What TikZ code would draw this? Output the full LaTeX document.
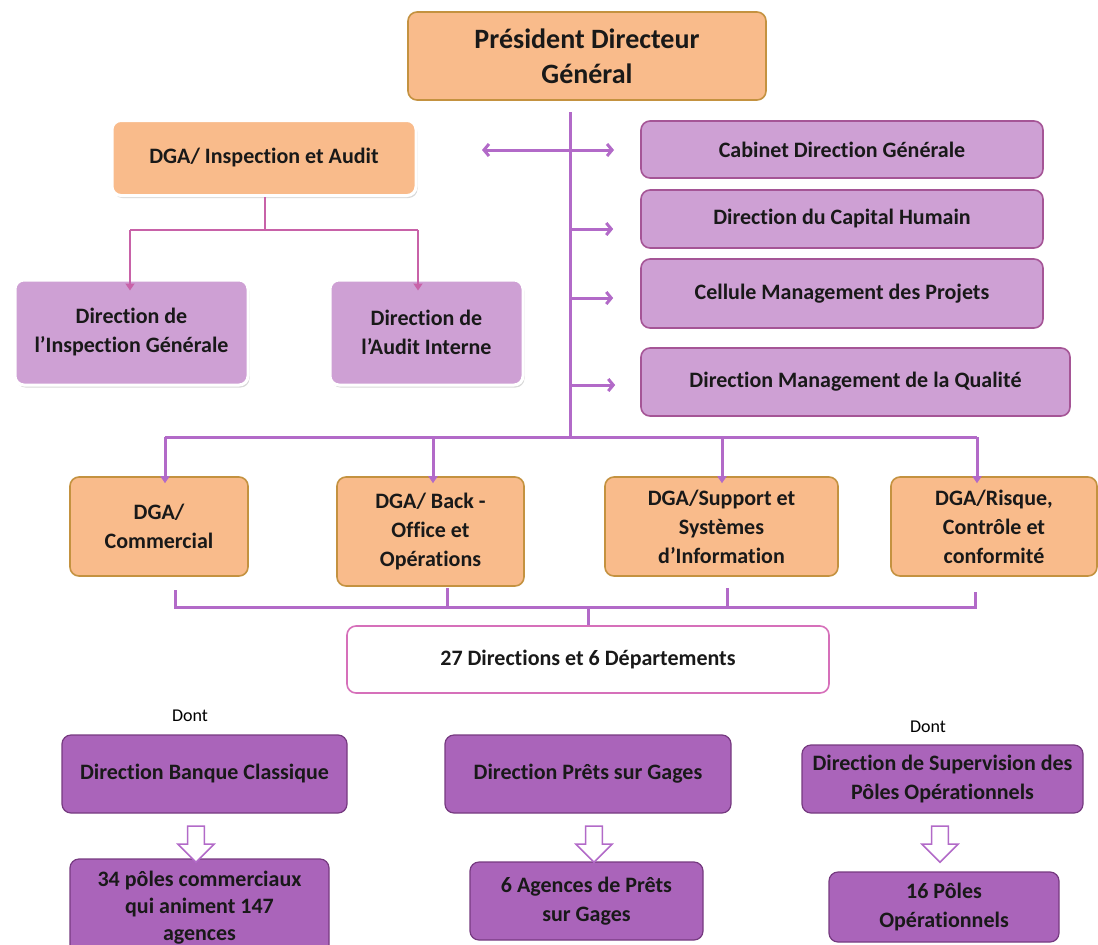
\documentclass[tikz,border=0pt]{standalone}
\usepackage{fontspec}
\setmainfont{Carlito}[Ligatures=NoCommon]
\usetikzlibrary{arrows.meta,shapes.arrows,shadows}
\definecolor{orfill}{RGB}{249,187,139}
\definecolor{ordraw}{RGB}{196,146,64}
\definecolor{lpfill}{RGB}{206,160,212}
\definecolor{lpdraw}{RGB}{165,85,150}
\definecolor{dpfill}{RGB}{170,100,186}
\definecolor{dpdraw}{RGB}{118,58,128}
\definecolor{linec}{RGB}{178,106,200}
\definecolor{pinkc}{RGB}{200,98,168}
\definecolor{pinkb}{RGB}{214,112,186}
\begin{document}
\begin{tikzpicture}[x=1pt,y=-1pt,
  font=\fontsize{22}{29}\selectfont\bfseries,
  bx/.style 2 args={minimum width=#1pt, minimum height=#2pt},
  box/.style={rounded corners=9pt, align=center, inner sep=0pt, line width=1.6pt, text=black!90},
  orbox/.style={box, fill=orfill, draw=ordraw},
  orwhite/.style={box, fill=orfill, draw=white, line width=3pt,
     drop shadow={shadow xshift=1.5pt, shadow yshift=-2.5pt, opacity=0.3}},
  lpwhite/.style={box, fill=lpfill, draw=white, line width=3pt,
     drop shadow={shadow xshift=1.5pt, shadow yshift=-2.5pt, opacity=0.3}},
  lpbox/.style={box, fill=lpfill, draw=lpdraw},
  dpbox/.style={box, fill=dpfill, draw=dpdraw, line width=1.2pt},
  wbox/.style={box, fill=white, draw=pinkb},
  conn/.style={draw=linec, line width=3pt},
  pconn/.style={draw=pinkc, line width=2.8pt},
  downtip/.style={-{Triangle[length=7pt,width=9pt]}},
  sidetip/.style={-{Straight Barb[length=5pt,width=12pt]}},
  bothtip/.style={{Straight Barb[length=5pt,width=12pt]}-{Straight Barb[length=5pt,width=12pt]}},
  hollow/.style={single arrow, shape border rotate=270, draw=linec, fill=white,
     line width=1.6pt, minimum height=36pt, minimum width=36pt,
     single arrow head extend=9pt, inner sep=7pt},
  dont/.style={font=\fontsize{18}{20}\selectfont}
]
\useasboundingbox (0,0) rectangle (1098,945);
\clip (0,0) rectangle (1098,945);

% top
\node[orbox, bx={358}{88}, font=\fontsize{28}{35}\selectfont\bfseries] (pdg) at (587,56) {Président Directeur\\Général};

% right column
\node[lpbox, bx={402}{57}] (cab) at (842,149.5) {Cabinet Direction Générale};
\node[lpbox, bx={402}{58}] (dch) at (842,219) {Direction du Capital Humain};
\node[lpbox, bx={402}{69}] (cmp) at (842,293.5) {Cellule Management des Projets};
\node[lpbox, bx={429}{68}] (dmq) at (855.5,382) {Direction Management de la Qualité};

% left column
\node[orwhite, bx={304}{75}] (dgaia) at (264,158) {DGA/ Inspection et Audit};
\node[lpwhite, bx={233}{105}] (dig) at (131.5,332.5) {Direction de\\l’Inspection Générale};
\node[lpwhite, bx={193}{105}] (dai) at (426.5,332.5) {Direction de\\l’Audit Interne};

% DGA row
\node[orbox, bx={178}{99}] (dgac) at (159,526.5) {DGA/\\Commercial};
\node[orbox, bx={187}{109}] (dgab) at (430.5,531.5) {DGA/ Back -\\Office et\\Opérations};
\node[orbox, bx={233}{99}] (dgas) at (721.5,526.5) {DGA/Support et\\Systèmes\\d’Information};
\node[orbox, bx={206}{99}] (dgar) at (994,526.5) {DGA/Risque,\\Contrôle et\\conformité};

% 27 directions
\node[wbox, bx={482}{67}] (d27) at (588,659.5) {27 Directions et 6 Départements};

% Dont labels
\node[dont] (dont1) at (190,716) {Dont};
\node[dont] (dont2) at (928,727) {Dont};

% bottom
\node[dpbox, bx={285}{78}] (dbc) at (204.5,774) {Direction Banque Classique};
\node[dpbox, bx={286}{78}] (dpg) at (588,774) {Direction Prêts sur Gages};
\node[dpbox, bx={281}{68}] (dsp) at (942.5,779) {Direction de Supervision des\\Pôles Opérationnels};
\node[dpbox, bx={259}{98}, font=\fontsize{22}{27}\selectfont\bfseries] (p34) at (199.5,908) {34 pôles commerciaux\\qui animent 147\\agences};
\node[dpbox, bx={233}{78}] (a6) at (586.5,901) {6 Agences de Prêts\\sur Gages};
\node[dpbox, bx={230}{70}] (p16) at (944,907) {16 Pôles\\Opérationnels};

\node[hollow] (h1) at (196,840) {};
\node[hollow] (h2) at (594,840) {};
\node[hollow] (h3) at (940,840) {};

% main trunk
\coordinate (t0) at (570,112);
\coordinate (t1) at (570,437);
\draw[conn] (t0) -- (t1);
\coordinate (dl) at (482,150);
\coordinate (dr) at (614,150);
\draw[conn, bothtip] (dl) -- (dr);
\draw[conn, sidetip] (570,229) -- ([xshift=-27pt]dch.west |- 0,229);
\draw[conn, sidetip] (570,298) -- ([xshift=-27pt]cmp.west |- 0,298);
\draw[conn, sidetip] (570,385) -- ([xshift=-25pt]dmq.west |- 0,385);

% trunk to DGA row
\draw[conn] (165,437) -- (977,437);
\draw[conn, downtip] (165,437) -- ([yshift=-7pt]dgac.north -| 165,0);
\draw[conn, downtip] (433,437) -- ([yshift=-7pt]dgab.north -| 433,0);
\draw[conn, downtip] (722,437) -- ([yshift=-7pt]dgas.north -| 722,0);
\draw[conn, downtip] (977,437) -- ([yshift=-7pt]dgar.north -| 977,0);

% DGA inspection branch
\coordinate (ia1) at (265,230);
\draw[pconn] (dgaia.south -| 265,0) -- (ia1);
\draw[pconn] (130,230) -- (418,230);
\draw[pconn, downtip] (130,230) -- ([yshift=-12pt]dig.north -| 130,0);
\draw[pconn, downtip] (418,230) -- ([yshift=-12pt]dai.north -| 418,0);

% DGA row to 27 directions
\coordinate (bj) at (588,607);
\draw[conn] (175,590) -- (175,607) -- (975,607) -- (975,592);
\draw[conn] (447,588) -- (447,607);
\draw[conn] (727,588) -- (727,607);
\draw[conn] (bj) -- (d27.north -| bj);
\end{tikzpicture}
\end{document}
